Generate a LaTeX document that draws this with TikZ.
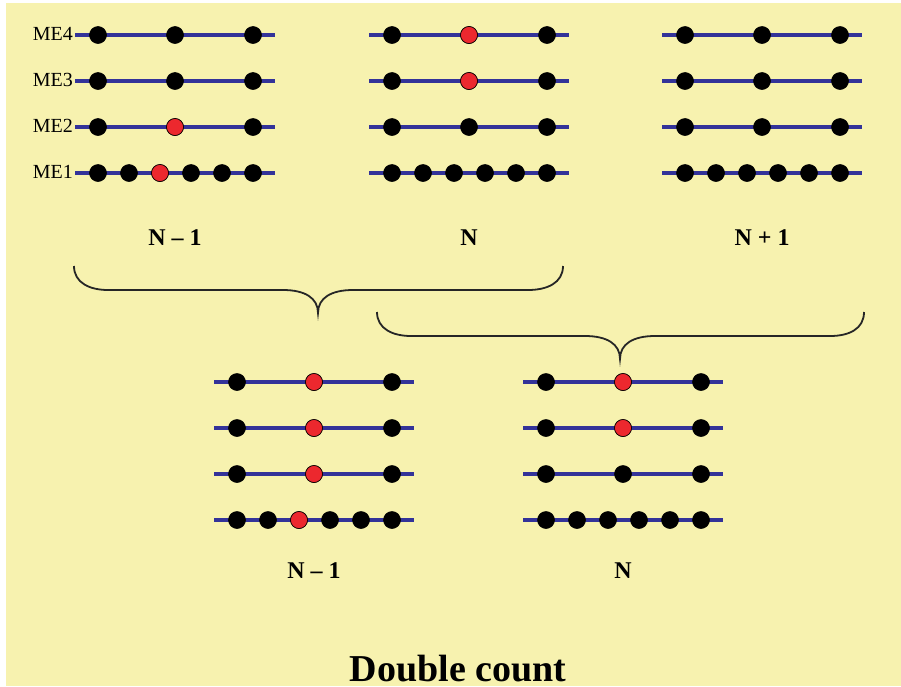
\documentclass[tikz,border=0pt]{standalone}
\usepackage{fontspec}
\setmainfont{Liberation Serif}
\definecolor{bgyellow}{RGB}{247,242,175}
\definecolor{wireblue}{RGB}{51,51,153}
\definecolor{dotred}{RGB}{236,40,46}
\tikzset{
  dotnode/.style={circle,fill=black,draw=black,line width=0.6pt,minimum size=17pt,inner sep=0pt},
  reddot/.style={dotnode,fill=dotred},
  wire/.style={draw=wireblue,line width=4pt},
  bracepath/.style={draw=black!85,line width=1.8pt},
  melabel/.style={anchor=base east,inner sep=0pt,font=\fontsize{20}{20}\selectfont},
  setlabel/.style={anchor=base,inner sep=0pt,font=\fontsize{24}{24}\selectfont\bfseries},
}
% #1 x of line start, #2 y of top row, #3 name prefix
\newcommand\dotgroup[3]{%
  \foreach \r in {0,1,2}{%
    \draw[wire] (#1,#2+46*\r) -- ++(200,0);
    \foreach \k/\n in {23/a,100/b,178/c}
      \node[dotnode] (#3-\r-\n) at (#1+\k,#2+46*\r) {};
  }
  \draw[wire] (#1,#2+138) -- ++(200,0);
  \foreach \k in {0,...,5}
    \node[dotnode] (#3-3-\k) at (#1+23+31*\k,#2+138) {};
}
\begin{document}
\begin{tikzpicture}[x=1pt,y=-1pt]
\useasboundingbox (0,0) rectangle (901,686);
\fill[bgyellow] (6,3) rectangle (901,686);

% top row groups
\dotgroup{75}{35}{ga}
\dotgroup{369}{35}{gb}
\dotgroup{662}{35}{gc}
% bottom groups
\dotgroup{214}{382}{gd}
\dotgroup{523}{382}{ge}

% red dots
\node[reddot] (ra1) at (175,127) {};
\node[reddot] (ra2) at (160,173) {};
\node[reddot] (rb1) at (469,35) {};
\node[reddot] (rb2) at (469,81) {};
\node[reddot] (rd1) at (314,382) {};
\node[reddot] (rd2) at (314,428) {};
\node[reddot] (rd3) at (314,474) {};
\node[reddot] (rd4) at (299,520) {};
\node[reddot] (re1) at (623,382) {};
\node[reddot] (re2) at (623,428) {};

% ME labels
\node[melabel] (me4) at (73,40) {ME4};
\node[melabel] (me3) at (73,86) {ME3};
\node[melabel] (me2) at (73,132) {ME2};
\node[melabel] (me1) at (73,178) {ME1};

% set labels
\node[setlabel] (la) at (175,245) {N – 1};
\node[setlabel] (lb) at (469,245) {N};
\node[setlabel] (lc) at (762,245) {N + 1};
\node[setlabel] (ld) at (314,578) {N – 1};
\node[setlabel] (le) at (623,578) {N};

% braces
\draw[bracepath] (74,266) .. controls (74,283) and (90,290) .. (108,290)
  -- (283,290) .. controls (305,290) and (318,298) .. (318,313)
  .. controls (318,298) and (331,290) .. (353,290)
  -- (528,290) .. controls (547,290) and (563,283) .. (563,266);
\draw[bracepath] (377,312) .. controls (377,329) and (393,336) .. (411,336)
  -- (585,336) .. controls (607,336) and (620,344) .. (620,359)
  .. controls (620,344) and (633,336) .. (655,336)
  -- (830,336) .. controls (849,336) and (864,329) .. (864,312);

% title
\node[anchor=base,inner sep=0pt,font=\fontsize{38}{38}\selectfont\bfseries] (title) at (458,681) {Double count};
\end{tikzpicture}
\end{document}
